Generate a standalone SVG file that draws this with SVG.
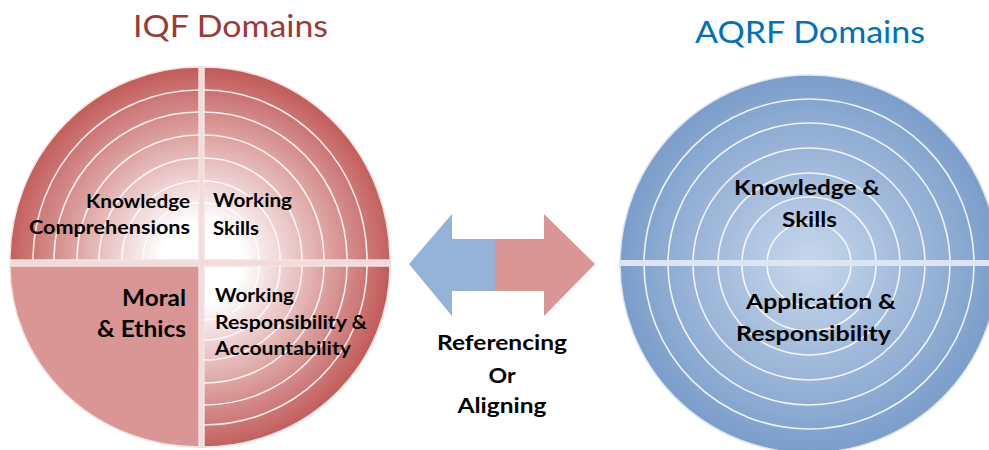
<svg xmlns="http://www.w3.org/2000/svg" width="989" height="450" viewBox="0 0 989 450">
<style>
.t{font-family:Lato,"Liberation Sans","DejaVu Sans",sans-serif;font-weight:bold;fill:#000;}
.s{font-size:19px;}
.m{font-size:22px;}
.title{font-family:Lato,"Liberation Sans","DejaVu Sans",sans-serif;font-size:31px;}
.ring{fill:none;stroke:#ffffff;stroke-opacity:0.85;stroke-width:1.6;}
.rim{stroke:#f5e1e0;stroke-width:1.5;}
.bar{fill:#f2dcdb;}
</style>
<defs>
<radialGradient id="gTL" gradientUnits="userSpaceOnUse" cx="199" cy="260" r="192">
<stop offset="0" stop-color="#ffffff"/><stop offset="0.2" stop-color="#ffffff"/><stop offset="1" stop-color="#c25c5a"/>
</radialGradient>
<radialGradient id="gTR" gradientUnits="userSpaceOnUse" cx="204" cy="260" r="190">
<stop offset="0" stop-color="#ffffff"/><stop offset="0.2" stop-color="#ffffff"/><stop offset="1" stop-color="#c25c5a"/>
</radialGradient>
<radialGradient id="gBR" gradientUnits="userSpaceOnUse" cx="204" cy="266" r="184">
<stop offset="0" stop-color="#ffffff"/><stop offset="0.2" stop-color="#ffffff"/><stop offset="1" stop-color="#c25c5a"/>
</radialGradient>
<radialGradient id="gB" gradientUnits="userSpaceOnUse" cx="809" cy="264" r="190">
<stop offset="0" stop-color="#c8d8ec"/><stop offset="1" stop-color="#7b9dca"/>
</radialGradient>
</defs>
<rect width="989" height="450" fill="#ffffff"/>

<g id="title-iqf"><text class="title" x="133" y="37" fill="#9b3a38" textLength="195" lengthAdjust="spacingAndGlyphs">IQF Domains</text></g>
<g id="title-aqrf"><text class="title" x="695" y="43" fill="#0070c0" textLength="230" lengthAdjust="spacingAndGlyphs">AQRF Domains</text></g>

<g id="iqf-circle">
<rect class="bar" x="10" y="259" width="381" height="8"/>
<rect class="bar" x="198" y="66" width="8" height="382"/>
<g id="q-knowledge">
<path class="rim" d="M199,260 L10,260 A189,193 0 0 1 199,67 Z" fill="url(#gTL)"/>
<path class="ring" d="M33,260 A166,170 0 0 1 199,90"/>
<path class="ring" d="M54,260 A145,148 0 0 1 199,112"/>
<path class="ring" d="M77,260 A122,125 0 0 1 199,135"/>
<path class="ring" d="M99,260 A100,102 0 0 1 199,158"/>
<path class="ring" d="M122,260 A77,79 0 0 1 199,181"/>
<path class="ring" d="M143,260 A56,57 0 0 1 199,203"/>
<path class="ring" d="M166,260 A33,34 0 0 1 199,226"/>
<text class="t s" x="190" y="208" text-anchor="end" textLength="104" lengthAdjust="spacingAndGlyphs">Knowledge</text>
<text class="t s" x="190" y="234" text-anchor="end" textLength="161" lengthAdjust="spacingAndGlyphs">Comprehensions</text>
</g>
<g id="q-skills">
<path class="rim" d="M204,260 L204,67 A186,193 0 0 1 390,260 Z" fill="url(#gTR)"/>
<path class="ring" d="M204,90 A163,170 0 0 1 367,260"/>
<path class="ring" d="M204,112 A143,148 0 0 1 347,260"/>
<path class="ring" d="M204,135 A120,125 0 0 1 324,260"/>
<path class="ring" d="M204,158 A98,102 0 0 1 302,260"/>
<path class="ring" d="M204,181 A76,79 0 0 1 280,260"/>
<path class="ring" d="M204,203 A55,57 0 0 1 259,260"/>
<path class="ring" d="M204,226 A33,34 0 0 1 237,260"/>
<text class="t s" x="213" y="207" textLength="79" lengthAdjust="spacingAndGlyphs">Working</text>
<text class="t s" x="213" y="235" textLength="46" lengthAdjust="spacingAndGlyphs">Skills</text>
</g>
<g id="q-moral">
<path class="rim" d="M199,266 L199,447 A189,181 0 0 1 10,266 Z" fill="#d99694"/>
<text class="t m" x="186" y="306" text-anchor="end" textLength="64" lengthAdjust="spacingAndGlyphs">Moral</text>
<text class="t m" x="186" y="337" text-anchor="end" textLength="89" lengthAdjust="spacingAndGlyphs">&amp; Ethics</text>
</g>
<g id="q-responsibility">
<path class="rim" d="M204,266 L390,266 A186,181 0 0 1 204,447 Z" fill="url(#gBR)"/>
<path class="ring" d="M367,266 A163,159 0 0 1 204,425"/>
<path class="ring" d="M347,266 A143,139 0 0 1 204,405"/>
<path class="ring" d="M324,266 A120,117 0 0 1 204,383"/>
<path class="ring" d="M302,266 A98,94 0 0 1 204,360"/>
<path class="ring" d="M280,266 A76,74 0 0 1 204,340"/>
<path class="ring" d="M259,266 A55,54 0 0 1 204,320"/>
<path class="ring" d="M237,266 A33,32 0 0 1 204,298"/>
<text class="t s" x="215" y="302" textLength="79" lengthAdjust="spacingAndGlyphs">Working</text>
<text class="t s" x="215" y="329" textLength="152" lengthAdjust="spacingAndGlyphs">Responsibility &amp;</text>
<text class="t s" x="215" y="355" textLength="136" lengthAdjust="spacingAndGlyphs">Accountability</text>
</g>
</g>

<g id="aqrf-circle">
<circle cx="809" cy="264" r="189" fill="url(#gB)" stroke="#dce6f2" stroke-width="1.5"/>
<circle class="ring" cx="809" cy="264" r="165"/>
<circle class="ring" cx="809" cy="264" r="141"/>
<circle class="ring" cx="809" cy="264" r="116"/>
<circle class="ring" cx="809" cy="264" r="91"/>
<circle class="ring" cx="809" cy="264" r="67"/>
<circle class="ring" cx="809" cy="264" r="42"/>
<rect x="619" y="260" width="370" height="6" fill="#dce6f2"/>
<g id="d-knowledge-skills">
<text class="t" font-size="20" x="734" y="195" textLength="146" lengthAdjust="spacingAndGlyphs">Knowledge &amp;</text>
<text class="t" font-size="20" x="782" y="227" textLength="55" lengthAdjust="spacingAndGlyphs">Skills</text>
</g>
<g id="d-application">
<text class="t" font-size="20" x="746" y="309" textLength="150" lengthAdjust="spacingAndGlyphs">Application &amp;</text>
<text class="t" font-size="20" x="736" y="341" textLength="155" lengthAdjust="spacingAndGlyphs">Responsibility</text>
</g>
</g>

<g id="connectors">
<polygon points="409,264 452,214 452,239 495,239 495,291 452,291 452,316" fill="#95b3d7"/>
<polygon points="495,239 544,239 544,214 595,264 544,316 544,291 495,291" fill="#d99694"/>
</g>
<g id="connector-label">
<text class="t" font-size="21" x="502" y="350" text-anchor="middle" textLength="130" lengthAdjust="spacingAndGlyphs">Referencing</text>
<text class="t" font-size="21" x="502" y="383" text-anchor="middle" textLength="27" lengthAdjust="spacingAndGlyphs">Or</text>
<text class="t" font-size="21" x="502" y="413" text-anchor="middle" textLength="89" lengthAdjust="spacingAndGlyphs">Aligning</text>
</g>
</svg>
